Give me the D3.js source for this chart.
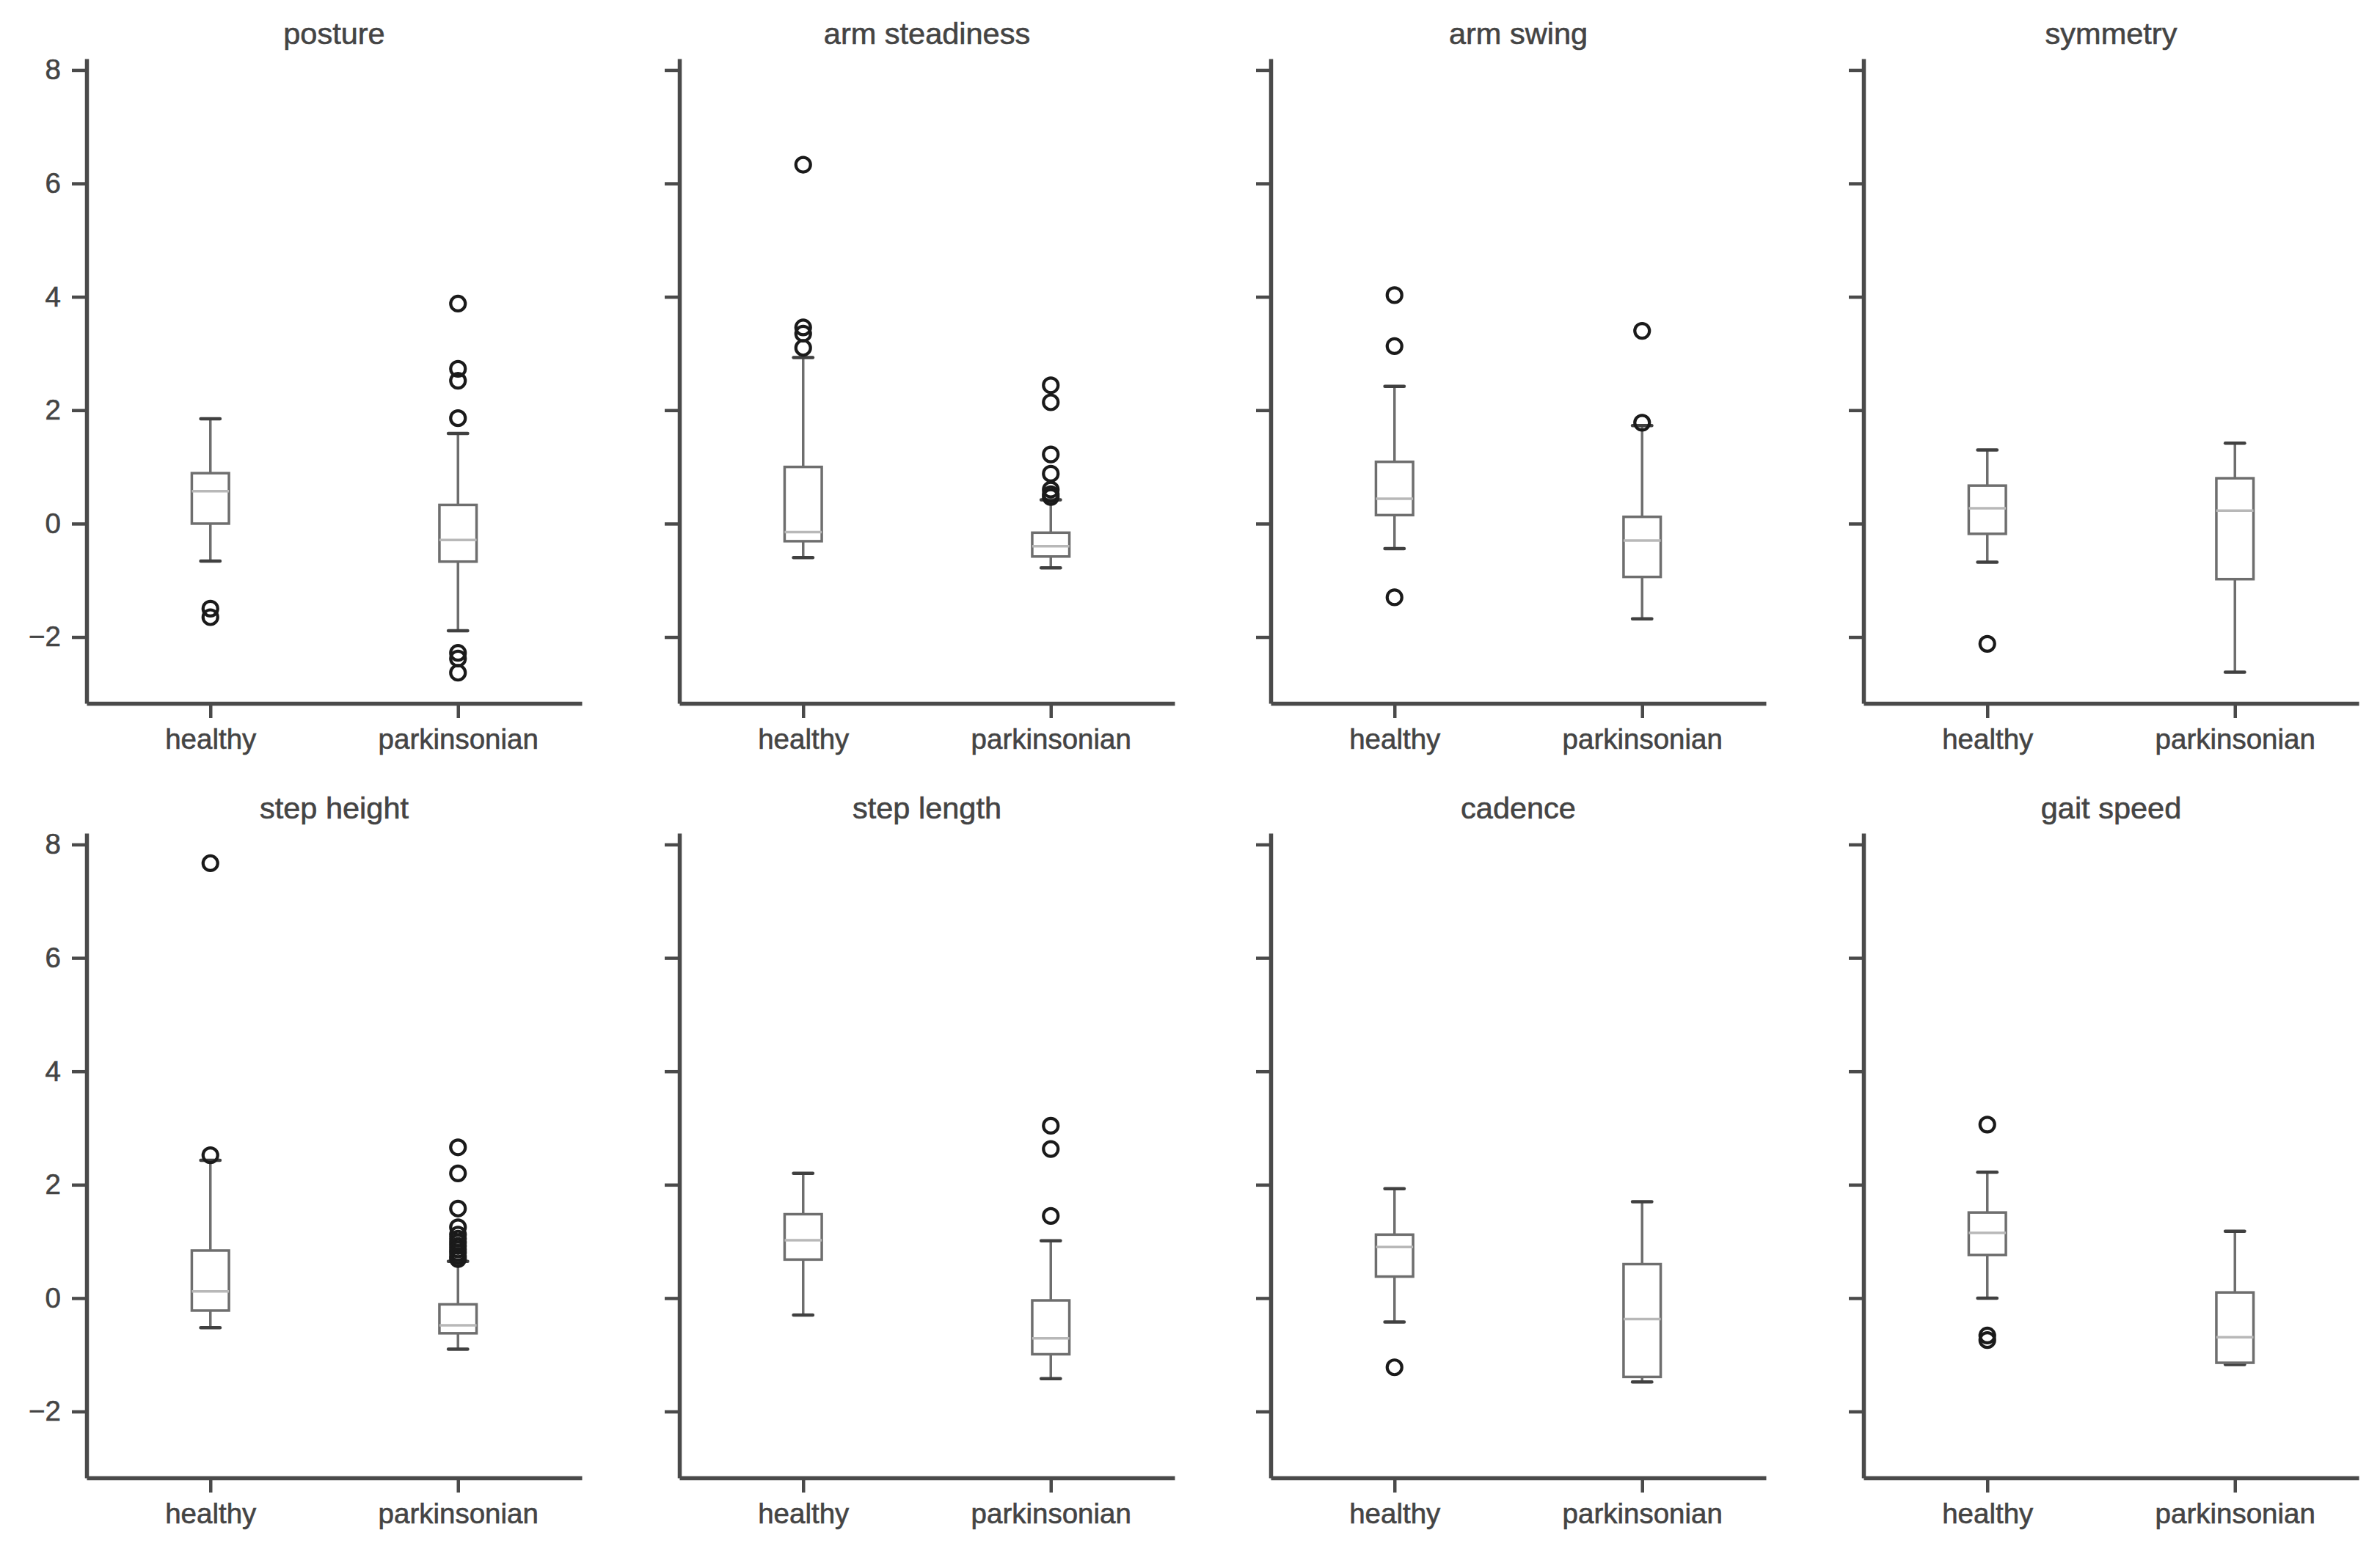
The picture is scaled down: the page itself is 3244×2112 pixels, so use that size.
<!DOCTYPE html>
<html>
<head>
<meta charset="utf-8">
<script src="https://cdn.jsdelivr.net/npm/d3@7"></script>
<style>
  body { margin: 0; background: #fff; }
  text { font-family: "Liberation Sans", Arial, Helvetica, sans-serif; }
</style>
</head>
<body>
<script>
// Feature names (one panel each) and the two groups
const features = [
    "posture", "arm steadiness", "arm swing", "symmetry",
    "step height", "step length", "cadence", "gait speed"
];
const groups = ["healthy", "parkinsonian"];

// Box stats per feature: [lower whisker, q1, median, q3, upper whisker]
const healthyStats = [
    [-0.66, 0.00, 0.57, 0.89, 1.85],
    [-0.60, -0.31, -0.15, 1.00, 2.93],
    [-0.44, 0.15, 0.44, 1.09, 2.42],
    [-0.68, -0.18, 0.27, 0.67, 1.30],
    [-0.52, -0.22, 0.12, 0.84, 2.43],
    [-0.30, 0.68, 1.02, 1.48, 2.20],
    [-0.42, 0.38, 0.90, 1.12, 1.93],
    [0.00, 0.76, 1.15, 1.51, 2.22]
];
const parkinsonianStats = [
    [-1.89, -0.67, -0.29, 0.33, 1.59],
    [-0.78, -0.58, -0.40, -0.16, 0.42],
    [-1.68, -0.94, -0.30, 0.12, 1.73],
    [-2.62, -0.98, 0.23, 0.80, 1.42],
    [-0.90, -0.62, -0.48, -0.11, 0.65],
    [-1.42, -0.99, -0.71, -0.04, 1.01],
    [-1.48, -1.39, -0.37, 0.60, 1.70],
    [-1.17, -1.14, -0.69, 0.10, 1.18]
];

// Outliers per feature
const healthyOutliers = [
    [-1.50, -1.65],
    [6.33, 3.46, 3.35, 3.10],
    [4.03, 3.13, -1.30],
    [-2.12],
    [7.67, 2.52],
    [],
    [-1.22],
    [3.06, -0.66, -0.74]
];
const parkinsonianOutliers = [
    [3.88, 2.73, 2.52, 1.86, -2.28, -2.38, -2.63],
    [2.44, 2.14, 1.22, 0.88, 0.60, 0.52, 0.47],
    [3.40, 1.78],
    [],
    [2.66, 2.20, 1.58, 1.25, 1.12, 1.05, 0.98, 0.92, 0.86, 0.80, 0.74, 0.69],
    [3.04, 2.63, 1.45],
    [],
    []
];

const yTicks = [-2, 0, 2, 4, 6, 8];
const yDomain = [-3.17, 8.2];

// Layout
const width = 3244, height = 2112;
const panelW = 675, panelH = 879;
const colX = [118, 926, 1732, 2540];
const rowY = [80, 1136];

const axisColor = "#4a4a4a";
const textColor = "#444";

const svg = d3.select("body")
    .append("svg")
    .attr("width", width)
    .attr("height", height)
    .style("background", "#fff");

const x = d3.scalePoint().domain(groups).range([0, panelW]).padding(0.5);
const y = d3.scaleLinear().domain(yDomain).range([panelH, 0]);

const boxW = x.step() * 0.15;
const capW = boxW * 0.52;

features.forEach((name, i) => {
    const col = i % 4, row = Math.floor(i / 4);
    const g = svg.append("g")
        .attr("transform", `translate(${colX[col]},${rowY[row]})`);

    // Title
    g.append("text")
        .attr("x", panelW / 2)
        .attr("y", -20)
        .attr("text-anchor", "middle")
        .attr("font-size", 41.5)
        .attr("fill", textColor)
        .attr("stroke", textColor)
        .attr("stroke-width", 0.6)
        .text(name);

    // Y axis
    const yAxis = g.append("g")
        .call(d3.axisLeft(y).tickValues(yTicks).tickSize(20).tickSizeOuter(0).tickPadding(15));
    if (col !== 0) yAxis.selectAll(".tick text").remove();

    // X axis
    const xAxis = g.append("g")
        .attr("transform", `translate(0,${panelH})`)
        .call(d3.axisBottom(x).tickSize(20).tickSizeOuter(0).tickPadding(15));

    [yAxis, xAxis].forEach(ax => {
        ax.select(".domain").attr("stroke", axisColor).attr("stroke-width", 5.5);
        ax.selectAll(".tick line").attr("stroke", axisColor).attr("stroke-width", 4.5);
        ax.selectAll(".tick text")
            .attr("font-size", 38.5)
            .attr("fill", textColor)
            .attr("stroke", textColor)
            .attr("stroke-width", 0.6)
            .attr("font-family", '"Liberation Sans", Arial, Helvetica, sans-serif');
    });

    const boxes = [
        { group: "healthy", s: healthyStats[i], out: healthyOutliers[i] },
        { group: "parkinsonian", s: parkinsonianStats[i], out: parkinsonianOutliers[i] }
    ];

    boxes.forEach(b => {
        const cx = x(b.group);
        const [lo, q1, med, q3, hi] = b.s;
        const bg = g.append("g");

        // Whiskers
        bg.append("line")
            .attr("x1", cx).attr("x2", cx)
            .attr("y1", y(q1)).attr("y2", y(lo))
            .attr("stroke", "#6e6e6e").attr("stroke-width", 3.5);
        bg.append("line")
            .attr("x1", cx).attr("x2", cx)
            .attr("y1", y(q3)).attr("y2", y(hi))
            .attr("stroke", "#6e6e6e").attr("stroke-width", 3.5);

        // Caps
        [lo, hi].forEach(v => {
            bg.append("line")
                .attr("x1", cx - capW / 2).attr("x2", cx + capW / 2)
                .attr("y1", y(v)).attr("y2", y(v))
                .attr("stroke", "#404040").attr("stroke-width", 4.5)
                .attr("stroke-linecap", "round");
        });

        // Box
        bg.append("rect")
            .attr("x", cx - boxW / 2)
            .attr("y", y(q3))
            .attr("width", boxW)
            .attr("height", y(q1) - y(q3))
            .attr("fill", "none")
            .attr("stroke", "#6e6e6e")
            .attr("stroke-width", 3.5);

        // Median
        bg.append("line")
            .attr("x1", cx - boxW / 2).attr("x2", cx + boxW / 2)
            .attr("y1", y(med)).attr("y2", y(med))
            .attr("stroke", "#b8b8b8").attr("stroke-width", 3.5);

        // Fliers
        bg.selectAll("circle")
            .data(b.out)
            .enter()
            .append("circle")
            .attr("cx", cx)
            .attr("cy", d => y(d))
            .attr("r", 10)
            .attr("fill", "none")
            .attr("stroke", "#1a1a1a")
            .attr("stroke-width", 4.2);
    });
});
</script>
</body>
</html>
